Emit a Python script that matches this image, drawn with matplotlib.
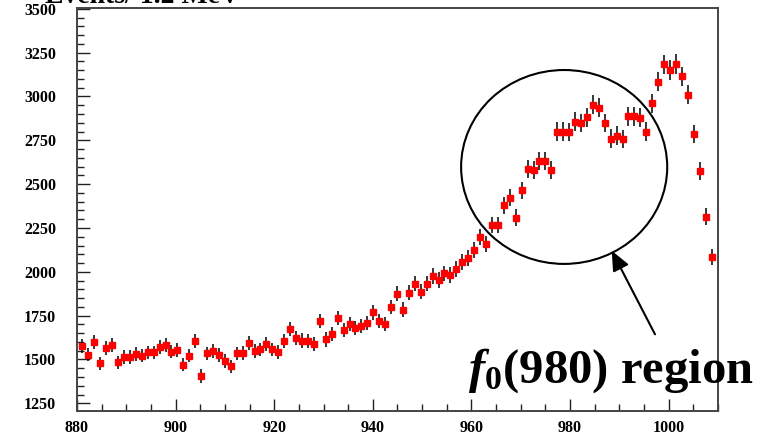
import numpy as np
import matplotlib
matplotlib.use("Agg")
import matplotlib.pyplot as plt
from matplotlib.patches import Ellipse
from matplotlib.ticker import MultipleLocator

plt.rcParams["mathtext.fontset"] = "custom"
plt.rcParams["mathtext.rm"] = "Liberation Serif"
plt.rcParams["mathtext.it"] = "Liberation Serif:italic"
plt.rcParams["mathtext.bf"] = "Liberation Serif:bold"
plt.rcParams["mathtext.bfit"] = "Liberation Serif:italic:bold"

# pi+pi- invariant mass histogram, 1.2 MeV bins
mass_first = 881.1
mass_last = 1008.7
counts = [
    1577, 1528, 1599, 1477, 1566, 1580, 1483, 1515, 1515, 1532, 1522,
    1540, 1540, 1572, 1580, 1545, 1555, 1471, 1522, 1606, 1406, 1534,
    1547, 1526, 1490, 1461, 1534, 1537, 1593, 1547, 1557, 1587, 1557,
    1541, 1603, 1675, 1620, 1608, 1606, 1589, 1720, 1614, 1643, 1736,
    1667, 1701, 1680, 1690, 1707, 1768, 1719, 1701, 1799, 1875, 1783,
    1880, 1932, 1886, 1932, 1977, 1953, 1991, 1981, 2017, 2054, 2077,
    2125, 2200, 2159, 2267, 2267, 2380, 2423, 2309, 2465, 2587, 2580,
    2633, 2633, 2580, 2800, 2800, 2797, 2857, 2848, 2882,
    2953, 2937, 2848, 2760, 2777, 2759, 2886, 2886, 2878, 2800, 2962,
    3084, 3183, 3153, 3185, 3114, 3010, 2785, 2576, 2315, 2084,
]
x_ticks = [880, 900, 920, 940, 960, 980, 1000]
y_ticks = [1250, 1500, 1750, 2000, 2250, 2500, 2750, 3000, 3250, 3500]

counts = np.array(counts, dtype=float)
mass = np.linspace(mass_first, mass_last, len(counts))
errors = np.sqrt(counts)

W, H = 774, 437
fig = plt.figure(figsize=(W / 100, H / 100), dpi=100)
ax = fig.add_axes([77 / W, 1 - 411 / H, (718 - 77) / W, (411 - 8.3) / H])

ax.errorbar(mass, counts, yerr=errors, fmt="none", ecolor="black",
            elinewidth=1.1, capsize=0, zorder=2)
ax.plot(mass, counts, ls="none", marker="s", ms=4.6, mfc="#ff0000",
        mec="#ff0000", zorder=3)

ax.set_xlim(880, 1010)
ax.set_ylim(1206, 3503)
ax.set_xticks(x_ticks)
ax.set_yticks(y_ticks)
ax.xaxis.set_minor_locator(MultipleLocator(5))
ax.yaxis.set_minor_locator(MultipleLocator(50))
ax.tick_params(which="both", direction="in", top=False, right=False,
               width=1.0, color="#222222")
ax.tick_params(which="major", length=9)
ax.tick_params(which="minor", length=4.7)
ax.tick_params(axis="y", pad=15)
ax.tick_params(axis="x", pad=6.5)
for lab in ax.get_xticklabels() + ax.get_yticklabels():
    lab.set_fontfamily("Liberation Serif")
    lab.set_fontweight("bold")
    lab.set_fontsize(11.5)
for side in ["left", "bottom", "right", "top"]:
    ax.spines[side].set_linewidth(1.4)
    ax.spines[side].set_color("#444444")

# highlight of the f0(980) region
ell = Ellipse((978.8, 2598), width=41.8, height=1106, fill=False,
              ec="black", lw=1.5, clip_on=False, zorder=4)
ax.add_patch(ell)

ax.annotate("", xy=(611.7, H - 250.7), xycoords="figure pixels",
            xytext=(655, H - 334.3), textcoords="figure pixels",
            arrowprops=dict(arrowstyle="-|>,head_length=0.8,head_width=0.35",
                            mutation_scale=15, color="black", lw=1.5,
                            shrinkA=0, shrinkB=0))

fig.text(468 / W, 1 - 383 / H, r"$\mathbfit{f}_{\mathbf{0}}$(980) region",
         fontfamily="Liberation Serif", fontweight="bold", fontsize=35,
         ha="left", va="baseline")

fig.text(45 / W, 1 - 3 / H, "Events/ 1.2 MeV", fontfamily="Liberation Serif",
         fontweight="bold", fontsize=20, ha="left", va="baseline")

fig.savefig("out.png", dpi=100)
